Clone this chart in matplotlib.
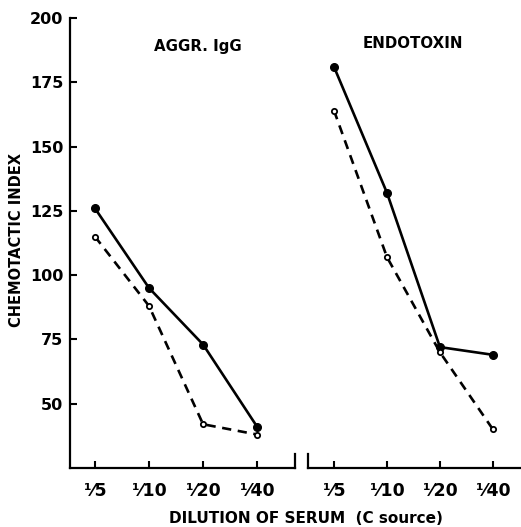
import matplotlib.pyplot as plt

plt.rcParams['font.family'] = ['DejaVu Sans']

# dilution labels shared by both panels
dilutions = ["¹⁄5", "¹⁄10", "¹⁄20", "¹⁄40"]

# AGGR. IgG panel
igg_solid = [126, 95, 73, 41]
igg_dashed = [115, 88, 42, 38]

# ENDOTOXIN panel
endo_solid = [181, 132, 72, 69]
endo_dashed = [164, 107, 70, 40]

yticks = [50, 75, 100, 125, 150, 175, 200]

fig = plt.figure(figsize=(5.21, 5.27), dpi=100)
ax1 = fig.add_axes([0.1344, 0.112, 0.4319, 0.854])
ax2 = fig.add_axes([0.5912, 0.112, 0.4088, 0.854], sharey=ax1)

x = list(range(len(dilutions)))


def draw(ax, solid, dashed):
    ax.plot(x, solid, color='black', lw=1.9, marker='o', ms=5.5,
            mfc='black', mec='black', zorder=3)
    ax.plot(x, dashed, color='black', lw=1.9, ls=(0, (3.5, 2.5)),
            marker='o', ms=3.8, mfc='white', mec='black', mew=1.3, zorder=3)
    ax.set_xticks(x)
    ax.set_xticklabels(dilutions, fontsize=12.5, fontweight='bold')
    ax.tick_params(axis='x', direction='in', length=5, width=1.5, pad=10)
    for s in ['top', 'right']:
        ax.spines[s].set_visible(False)
    ax.spines['bottom'].set_linewidth(1.6)


draw(ax1, igg_solid, igg_dashed)
draw(ax2, endo_solid, endo_dashed)

ax1.set_xlim(-0.46, 3.7)
ax2.set_xlim(-0.49, 3.53)
ax1.set_ylim(25, 200)
ax1.set_yticks(yticks)
ax1.set_yticklabels([str(v) for v in yticks], fontsize=11.5, fontweight='bold')
ax1.tick_params(axis='y', direction='in', length=5, width=1.5, pad=5)
ax1.spines['left'].set_linewidth(1.6)

ax2.spines['left'].set_visible(False)
ax2.tick_params(axis='y', left=False, labelleft=False)

# break marks on the x axis
ax1.plot([1, 1], [0, 0.032], color='black', lw=1.6, transform=ax1.transAxes, clip_on=False)
ax2.plot([0, 0], [0, 0.032], color='black', lw=1.6, transform=ax2.transAxes, clip_on=False)

ax1.text(0.569, 0.936, "AGGR. IgG", transform=ax1.transAxes, ha='center', va='center',
         fontsize=10.8, fontweight='bold')
ax2.text(0.493, 0.944, "ENDOTOXIN", transform=ax2.transAxes, ha='center', va='center',
         fontsize=10.8, fontweight='bold')

fig.text(0.031, 0.545, "CHEMOTACTIC INDEX", rotation=90, ha='center', va='center',
         fontsize=10.5, fontweight='bold')
fig.text(0.587, 0.017, "DILUTION OF SERUM  (C source)", ha='center', va='center',
         fontsize=11, fontweight='bold')

fig.savefig("out.png", dpi=100)
